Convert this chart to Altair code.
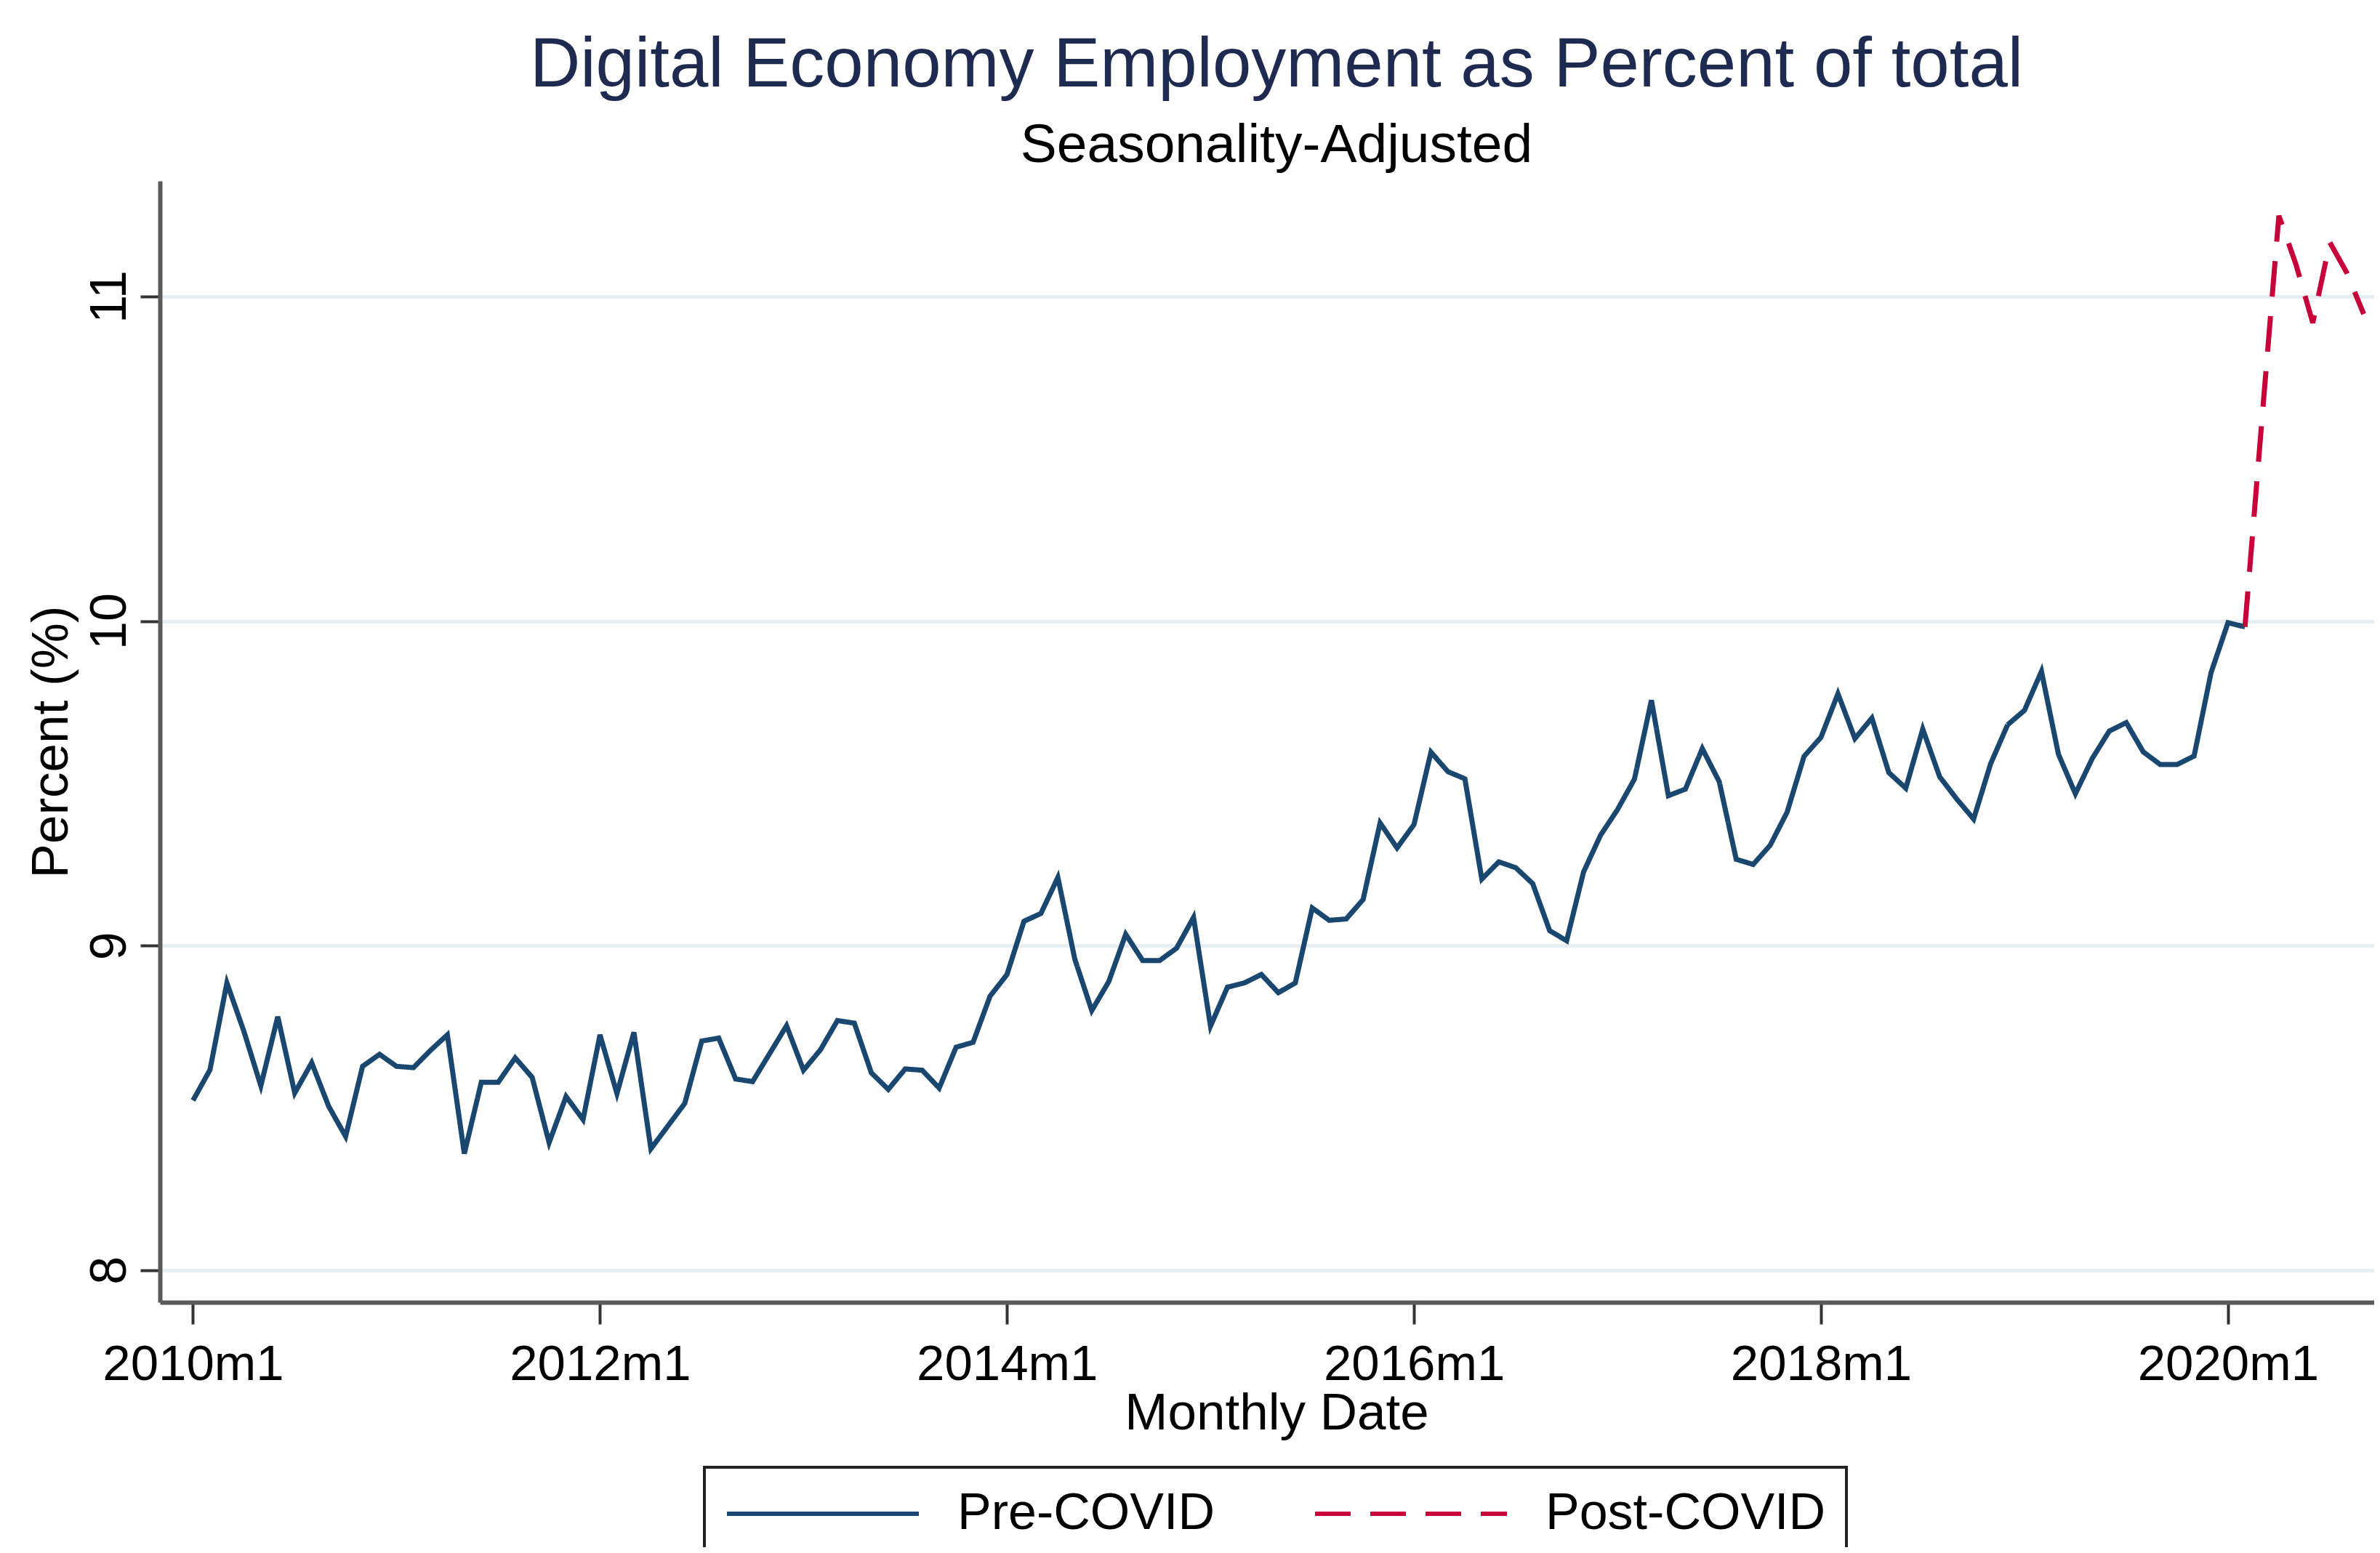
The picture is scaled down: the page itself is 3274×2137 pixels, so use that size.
import json
import altair as alt
import pandas as pd

# Digital economy employment, percent of total (seasonality-adjusted), monthly
pre_start = 0      # 2010m1
pre_covid = [
    8.523, 8.617, 8.885, 8.736, 8.568, 8.781, 8.546, 8.639, 8.505, 8.412, 8.628, 8.665,   # 2010
    8.628, 8.624, 8.677, 8.725, 8.359, 8.579, 8.579, 8.654, 8.594, 8.393, 8.535, 8.464,   # 2011
    8.725, 8.544, 8.733, 8.374, 8.444, 8.514, 8.706, 8.715, 8.589, 8.581, 8.667, 8.753,   # 2012
    8.616, 8.679, 8.769, 8.761, 8.608, 8.557, 8.620, 8.616, 8.561, 8.687, 8.702, 8.844,   # 2013
    8.911, 9.075, 9.099, 9.210, 8.958, 8.800, 8.889, 9.035, 8.954, 8.954, 8.992, 9.087,   # 2014
    8.752, 8.872, 8.885, 8.911, 8.855, 8.885, 9.116, 9.078, 9.082, 9.142, 9.378, 9.301,   # 2015
    9.373, 9.596, 9.536, 9.514, 9.205, 9.258, 9.240, 9.191, 9.046, 9.015, 9.227, 9.340,   # 2016
    9.419, 9.513, 9.756, 9.462, 9.482, 9.607, 9.505, 9.266, 9.250, 9.309, 9.411, 9.583,   # 2017
    9.642, 9.776, 9.638, 9.701, 9.533, 9.485, 9.667, 9.520, 9.452, 9.390, 9.560, 9.680,   # 2018
    9.725, 9.845, 9.590, 9.468, 9.577, 9.661, 9.687, 9.597, 9.558, 9.558, 9.584, 9.841,   # 2019
    9.995, 9.982,                                                                         # 2020m1-m2
]
post_start = 121   # 2020m2
post_covid = [9.982, 10.62, 11.249, 11.10, 10.919, 11.167, 11.074, 10.946]

series_names = ["Pre-COVID", "Post-COVID"]
series_colors = ["#1A476F", "#C8003A"]
series_dashes = [[1, 0], [49, 27]]

x_tick_values = [0, 24, 48, 72, 96, 120]
x_tick_labels = ["2010m1", "2012m1", "2014m1", "2016m1", "2018m1", "2020m1"]
y_tick_values = [8, 9, 10, 11]

rows = [{"month": pre_start + i, "value": v, "series": series_names[0]} for i, v in enumerate(pre_covid)]
rows += [{"month": post_start + i, "value": v, "series": series_names[1]} for i, v in enumerate(post_covid)]
df = pd.DataFrame(rows)

FONT = "Liberation Sans"
label_expr = f"{json.dumps(x_tick_labels)}[indexof({json.dumps(x_tick_values)}, datum.value)]"

legend = alt.Legend(
    title=None,
    orient="none",
    legendX=749,
    legendY=1770,
    direction="horizontal",
    symbolType="M-1,0H7",
    symbolSize=4356,
    symbolStrokeWidth=6,
    labelFont=FONT,
    labelFontSize=70,
    labelColor="black",
    labelLimit=2000,
    labelOffset=248,
    columnPadding=126,
    padding=28,
    strokeColor="#222222",
    fillColor="white",
)

chart = (
    alt.Chart(df)
    .mark_line(strokeWidth=7, strokeJoin="miter")
    .encode(
        x=alt.X(
            "month:Q",
            scale=alt.Scale(domain=[-1.95, 128.62], nice=False, zero=False),
            axis=alt.Axis(
                values=x_tick_values,
                labelExpr=label_expr,
                title="Monthly Date",
                grid=False,
                labelFont=FONT,
                labelFontSize=69,
                labelColor="black",
                labelLimit=2000,
                labelFlush=False,
                labelOverlap=False,
                labelBaseline="alphabetic",
                labelPadding=76,
                tickSize=30,
                tickWidth=4,
                tickColor="#333333",
                domainColor="#5A5A5A",
                domainWidth=6,
                titleFont=FONT,
                titleFontSize=71,
                titleFontWeight="normal",
                titleColor="black",
                titleBaseline="alphabetic",
                titleAlign="center",
                titleX=1536,
                titleY=174,
                titleLimit=3000,
            ),
        ),
        y=alt.Y(
            "value:Q",
            scale=alt.Scale(domain=[7.901, 11.356], nice=False, zero=False),
            axis=alt.Axis(
                values=y_tick_values,
                title="Percent (%)",
                grid=True,
                gridColor="#E6EEF1",
                gridWidth=5,
                labelFont=FONT,
                labelFontSize=70,
                labelColor="black",
                labelAngle=270,
                labelAlign="center",
                labelBaseline="alphabetic",
                labelPadding=21,
                labelLimit=2000,
                tickSize=27,
                tickWidth=4,
                tickColor="#333333",
                domainColor="#5A5A5A",
                domainWidth=6,
                titleFont=FONT,
                titleFontSize=71,
                titleFontWeight="normal",
                titleColor="black",
                titleAngle=270,
                titleAlign="center",
                titleBaseline="alphabetic",
                titleX=-128,
                titleY=771.5,
                titleLimit=3000,
            ),
        ),
        color=alt.Color(
            "series:N",
            scale=alt.Scale(domain=series_names, range=series_colors),
            legend=legend,
        ),
        strokeDash=alt.StrokeDash(
            "series:N",
            scale=alt.Scale(domain=series_names, range=series_dashes),
            legend=legend,
        ),
    )
    .properties(
        width=3046,
        height=1543,
        title=alt.TitleParams(
            text="Digital Economy Employment as Percent of total",
            subtitle="Seasonality-Adjusted",
            font=FONT,
            fontSize=96,
            fontWeight="normal",
            color="#1E2A50",
            subtitleFont=FONT,
            subtitleFontSize=75,
            subtitleColor="black",
            subtitlePadding=25,
            anchor="middle",
            dx=13,
            offset=10,
        ),
        autosize=alt.AutoSizeParams(type="none"),
        padding={"left": 212, "top": 241, "right": 0, "bottom": 337},
        background="white",
    )
    .configure_view(stroke=None)
    .configure_legend(strokeWidth=4)
)

chart.save("out.html", embed_options={"renderer": "svg", "actions": False})
